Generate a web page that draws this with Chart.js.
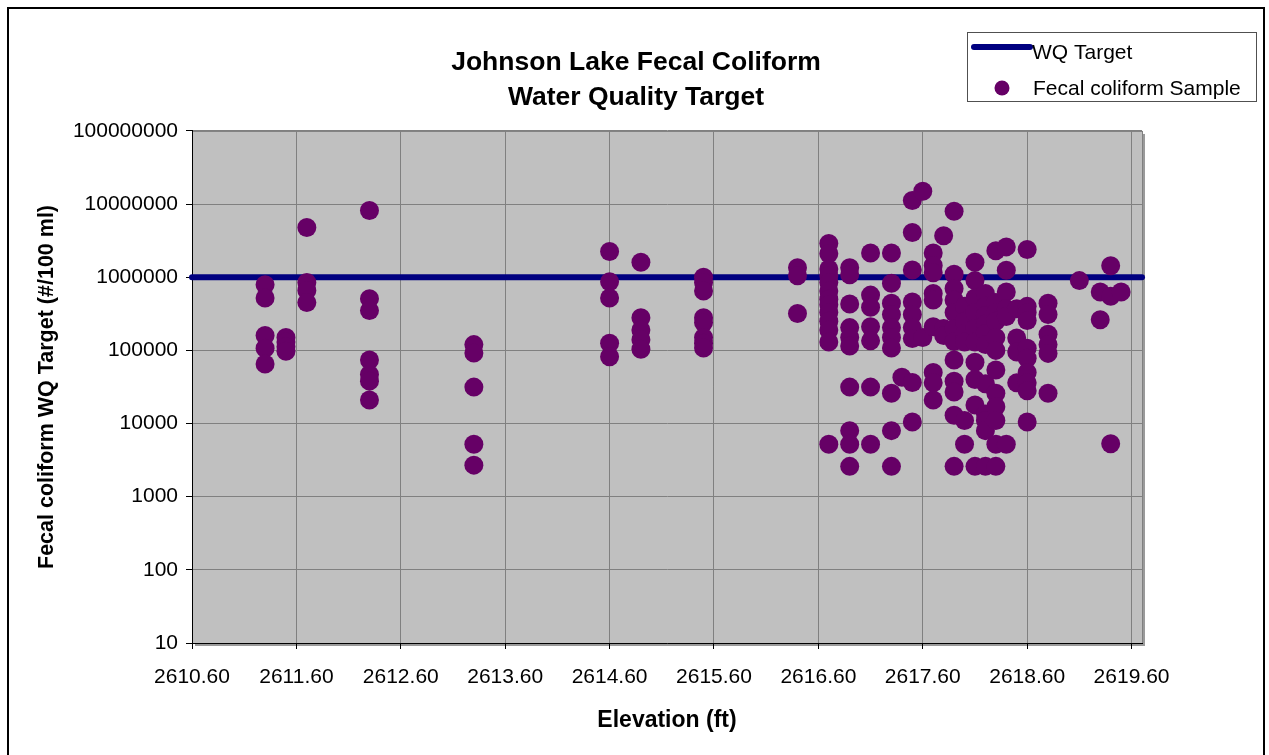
<!DOCTYPE html>
<html>
<head>
<meta charset="utf-8">
<script src="https://cdn.jsdelivr.net/npm/chart.js@4.4.1/dist/chart.umd.min.js"></script>
<style>
  html, body { margin: 0; padding: 0; background: #fff; }
  canvas { display: block; }
</style>
</head>
<body>
<canvas id="chart" width="1269" height="755"></canvas>
<script>
// elevation (ft) of each sampling column, and the fecal coliform counts read at it
const elevationColumns = [
	2611.3, 2611.5, 2611.7, 2612.3, 2613.3, 2614.6, 2614.9, 2615.5, 2616.4, 2616.7,
	2616.9, 2617.1, 2617.3, 2617.4, 2617.5, 2617.6, 2617.7, 2617.8, 2617.9, 2618.0,
	2618.1, 2618.2, 2618.3, 2618.4, 2618.5, 2618.6, 2618.8, 2619.1, 2619.3, 2619.4,
	2619.5
];
const fecalByColumn = [
	[790000, 520000, 160000, 107000, 65000],
	[150000, 130000, 112000, 97000],
	[4800000, 850000, 660000, 450000],
	[8200000, 510000, 350000, 74000, 47000, 38000, 21000],
	[120000, 92000, 31500, 5200, 2700],
	[2250000, 870000, 520000, 125000, 82000],
	[1600000, 280000, 190000, 140000, 104000],
	[1000000, 850000, 650000, 280000, 240000, 150000, 125000, 108000],
	[1350000, 1050000, 320000],
	[2900000, 2100000, 1300000, 1050000, 850000, 650000, 500000, 420000, 330000, 250000, 190000, 130000, 5200],
	[1350000, 1080000, 430000, 205000, 150000, 115000, 31500, 8000, 5200, 2600],
	[2150000, 570000, 390000, 210000, 135000, 31500, 5200],
	[2150000, 830000, 440000, 310000, 205000, 150000, 108000, 26000, 8000, 2600],
	[43000],
	[11200000, 4100000, 1260000, 460000, 310000, 205000, 145000, 36500, 10500],
	[15000000, 150000],
	[2150000, 1450000, 1150000, 600000, 490000, 210000, 50000, 36000, 21000],
	[3700000, 200000, 160000],
	[8000000, 1100000, 700000, 490000, 330000, 200000, 132000, 74000, 38000, 27000, 13000, 2600],
	[400000, 250000, 170000, 130000, 11000, 5200],
	[1600000, 900000, 520000, 330000, 200000, 130000, 69000, 40000, 18000, 2600],
	[600000, 400000, 300000, 230000, 170000, 120000, 35000, 13500, 11000, 8000, 2600],
	[2300000, 450000, 330000, 250000, 150000, 100000, 54000, 26000, 17000, 11000, 5200, 2600],
	[2600000, 1250000, 630000, 370000, 290000, 5200],
	[370000, 148000, 95000, 36000],
	[2400000, 400000, 330000, 257000, 107000, 78000, 50000, 36000, 28000, 10500],
	[440000, 310000, 166000, 120000, 91000, 26000],
	[900000],
	[630000, 263000],
	[1440000, 550000, 5300],
	[630000]
];

const targetElevations = [2610.6, 2619.7];
const targetValues = [1000000, 1000000];

const xTickValues = [2610.6, 2611.6, 2612.6, 2613.6, 2614.6, 2615.6, 2616.6, 2617.6, 2618.6, 2619.6];
const yTickValues = [10, 100, 1000, 10000, 100000, 1000000, 10000000, 100000000];

const FONT = "'Liberation Sans', Arial, sans-serif";
Chart.defaults.font.family = FONT;
Chart.defaults.color = '#000';

function buildSamples() {
	var points = [];
	for (let i = 0; i < elevationColumns.length; i++) {
		fecalByColumn[i].forEach((v) => {
			points.push({x: elevationColumns[i], y: v});
		});
	}
	return points;
}

const plotBackground = {
	id: 'plotBackground',
	beforeDraw(chart) {
		const {ctx, chartArea: {left, top, width, height}} = chart;
		ctx.save();
		ctx.fillStyle = '#ffffff';
		ctx.fillRect(0, 0, chart.width, chart.height);
		// soft shadow on right and bottom of the plot
		ctx.fillStyle = '#9a9a9a';
		ctx.fillRect(left + 3, top + 3, width, height);
		ctx.fillStyle = '#c0c0c0';
		ctx.fillRect(left, top, width, height);
		ctx.strokeStyle = '#808080';
		ctx.lineWidth = 1;
		ctx.strokeRect(left + 0.5, top + 0.5, width, height);
		// outer frame
		ctx.strokeStyle = '#000';
		ctx.lineWidth = 2;
		ctx.strokeRect(8, 8, 1256, 770);
		ctx.restore();
	}
};

const sideLegend = {
	id: 'sideLegend',
	afterDraw(chart) {
		const ctx = chart.ctx;
		const line = chart.data.datasets[1];
		const dots = chart.data.datasets[0];
		ctx.save();
		ctx.fillStyle = '#ffffff';
		ctx.fillRect(967.5, 32.5, 289, 69);
		ctx.strokeStyle = '#505050';
		ctx.lineWidth = 1;
		ctx.strokeRect(967.5, 32.5, 289, 69);

		ctx.strokeStyle = line.borderColor;
		ctx.lineWidth = 6;
		ctx.lineCap = 'round';
		ctx.beginPath();
		ctx.moveTo(974, 47);
		ctx.lineTo(1030, 47);
		ctx.stroke();

		ctx.fillStyle = dots.backgroundColor;
		ctx.beginPath();
		ctx.arc(1002, 88, 7.5, 0, Math.PI * 2);
		ctx.fill();

		ctx.fillStyle = '#000';
		ctx.font = '21px ' + FONT;
		ctx.textBaseline = 'middle';
		ctx.textAlign = 'left';
		ctx.fillText(line.label, 1032, 53);
		ctx.fillText(dots.label, 1033, 89);
		ctx.restore();
	}
};

var chart = new Chart(document.getElementById('chart'), {
	type: 'scatter',
	data: {
		datasets: [
			{
				type: 'scatter',
				label: 'Fecal coliform Sample',
				data: buildSamples(),
				backgroundColor: '#660066',
				borderColor: '#660066',
				pointRadius: 9.5,
				pointBorderWidth: 0,
				order: 1,
			},
			{
				type: 'line',
				label: 'WQ Target',
				data: targetElevations.map((x, i) => ({x: x, y: targetValues[i]})),
				borderColor: '#000080',
				backgroundColor: '#000080',
				borderWidth: 6,
				borderCapStyle: 'round',
				pointRadius: 0,
				fill: false,
				clip: false,
				order: 2,
			},
		],
	},
	options: {
		responsive: false,
		animation: false,
		devicePixelRatio: 1,
		layout: {
			padding: {left: 10, right: 7, top: 0, bottom: 0},
		},
		scales: {
			x: {
				type: 'linear',
				min: 2610.6,
				max: 2619.7,
				afterBuildTicks(scale) {
					scale.ticks = xTickValues.map((v) => ({value: v}));
				},
				afterFit(scale) { scale.height = 112; },
				ticks: {
					callback: (v) => Number(v).toFixed(2),
					font: {size: 21},
					padding: 16,
					maxRotation: 0,
					autoSkip: false,
				},
				grid: {color: '#808080', tickColor: '#000', tickLength: 6},
				border: {color: '#000', width: 1},
				title: {
					display: true,
					text: 'Elevation (ft)',
					font: {size: 23, weight: 'bold'},
					padding: {top: 0, bottom: 21},
				},
			},
			y: {
				type: 'logarithmic',
				min: 10,
				max: 100000000,
				afterBuildTicks(scale) {
					scale.ticks = yTickValues.map((v) => ({value: v}));
				},
				afterFit(scale) { scale.width = 182; },
				ticks: {
					callback: (v) => String(v),
					font: {size: 21},
					padding: 8,
				},
				grid: {color: '#808080', tickColor: '#000', tickLength: 6},
				border: {color: '#000', width: 1},
				title: {
					display: true,
					text: 'Fecal coliform WQ Target (#/100 ml)',
					font: {size: 21.5, weight: 'bold'},
					padding: {top: 24, bottom: 0},
				},
			},
			yRight: {
				type: 'linear',
				position: 'right',
				display: true,
				grid: {display: false, drawTicks: false},
				ticks: {display: false},
				border: {display: false},
				afterFit(scale) { scale.width = 120; },
			},
		},
		plugins: {
			legend: {display: false},
			tooltip: {enabled: false},
			title: {
				display: true,
				text: ['Johnson Lake Fecal Coliform', 'Water Quality Target'],
				font: {size: 26.5, weight: 'bold', lineHeight: 1.32},
				color: '#000',
				padding: {top: 45, bottom: 16},
			},
		},
	},
	plugins: [plotBackground, sideLegend],
});
</script>
</body>
</html>
